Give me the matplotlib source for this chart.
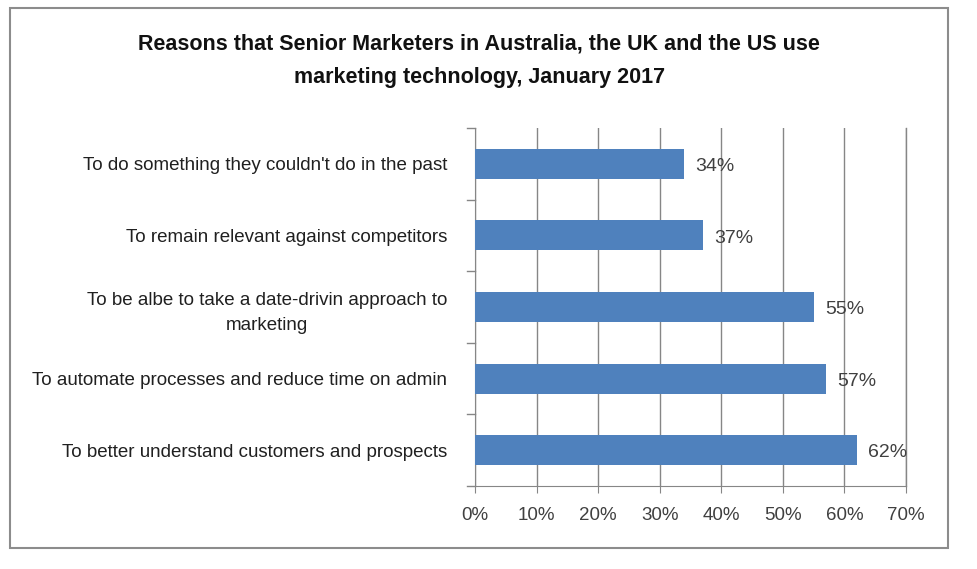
import matplotlib.pyplot as plt
from matplotlib.patches import Rectangle

# Data
categories = [
    "To do something they couldn't do in the past",
    "To remain relevant against competitors",
    "To be albe to take a date-drivin approach to\nmarketing",
    "To automate processes and reduce time on admin",
    "To better understand customers and prospects",
]
values = [34, 37, 55, 57, 62]
x_ticks = [0, 10, 20, 30, 40, 50, 60, 70]
title = ("Reasons that Senior Marketers in Australia, the UK and the US use\n"
         "marketing technology, January 2017")

plt.rcParams['font.family'] = ['Liberation Sans Narrow', 'Liberation Sans', 'DejaVu Sans']

fig = plt.figure(figsize=(9.78, 5.69), dpi=100)
ax = fig.add_axes([0.4857, 0.146, 0.4407, 0.629])

bar_color = '#4f81bd'
grid_color = '#868686'
ypos = list(range(len(categories)))[::-1]

ax.barh(ypos, values, height=0.42, color=bar_color, zorder=3)
for y, v in zip(ypos, values):
    ax.text(v + 1.8, y - 0.04, f"{v}%", va='center', ha='left', fontsize=14, color='#404040')

ax.set_xlim(0, 70)
ax.set_ylim(-0.5, len(categories) - 0.5)
ax.set_xticks(x_ticks)
ax.set_xticklabels([f"{t}%" for t in x_ticks], fontsize=13.5, color='#404040')
ax.set_yticks(ypos)
ax.set_yticklabels(categories, fontsize=13.5, color='#202020',
                   multialignment='center', linespacing=1.6)
ax.tick_params(axis='y', length=0, pad=20)
ax.tick_params(axis='x', length=5, color=grid_color, pad=10)

# category boundary ticks on the y axis
for b in [i - 0.5 for i in range(len(categories) + 1)]:
    ax.plot([-1.3, 0], [b, b], color=grid_color, lw=1, clip_on=False, zorder=4)

ax.grid(axis='x', color=grid_color, lw=1, zorder=0)
ax.axvline(70, color=grid_color, lw=1, clip_on=False, zorder=0)
for side in ['top', 'right']:
    ax.spines[side].set_visible(False)
for side in ['left', 'bottom']:
    ax.spines[side].set_color(grid_color)

fig.text(0.49, 0.893, title, ha='center', va='center', fontsize=15.5,
         fontweight='bold', linespacing=1.8, color='#111111')

fig.patches.append(Rectangle((10 / 978, 1 - 548 / 569), 938 / 978, 540 / 569,
                             transform=fig.transFigure, fill=False,
                             edgecolor='#8c8c8c', lw=1.5))

fig.savefig('out.png', dpi=100)
